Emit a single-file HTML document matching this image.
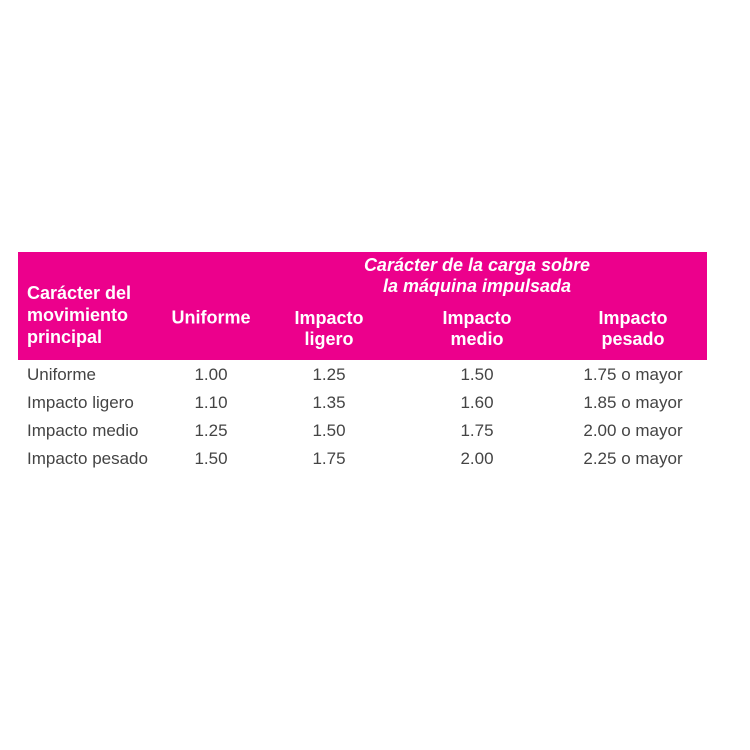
<!DOCTYPE html>
<html><head><meta charset="utf-8"><style>
body{margin:0;width:750px;height:750px;background:#fff;position:relative;font-family:"Liberation Sans",sans-serif;overflow:hidden}
.band{position:absolute;left:18px;top:252px;width:689px;height:108px;background:#EC008C}
.h{position:absolute;color:#fff;font-weight:bold;font-size:18px;line-height:21px;transform:translate(-50%,-50%);text-align:center;white-space:nowrap}
.hl{position:absolute;color:#fff;font-weight:bold;font-size:18px;line-height:22px;left:27px;top:282px}
.t{position:absolute;color:#444;font-size:17px;transform:translate(-50%,-50%);white-space:nowrap}
.l{position:absolute;color:#444;font-size:17px;left:27px;transform:translateY(-50%);white-space:nowrap}
</style></head><body>
<div class="band"></div>
<div class="hl">Carácter del<br>movimiento<br>principal</div>
<div class="h" style="left:477px;top:276px;font-style:italic">Carácter de la carga sobre<br>la máquina impulsada</div>
<div class="h" style="left:211px;top:318px">Uniforme</div>
<div class="h" style="left:329px;top:329px">Impacto<br>ligero</div>
<div class="h" style="left:477px;top:329px">Impacto<br>medio</div>
<div class="h" style="left:633px;top:329px">Impacto<br>pesado</div>
<div id="rows"></div>
<script>
const labels=["Uniforme","Impacto ligero","Impacto medio","Impacto pesado"];
const c1=["1.00","1.10","1.25","1.50"];
const c2=["1.25","1.35","1.50","1.75"];
const c3=["1.50","1.60","1.75","2.00"];
const c4=["1.75 o mayor","1.85 o mayor","2.00 o mayor","2.25 o mayor"];
const xs=[211,329,477,633];
const host=document.getElementById('rows');
labels.forEach((lab,i)=>{
  const y=375+i*28;
  const d=document.createElement('div');
  d.className='l';d.style.top=y+'px';d.textContent=lab;
  
  
  host.appendChild(d);
  [c1,c2,c3,c4].forEach((col,j)=>{
    const e=document.createElement('div');
    e.className='t';e.style.top=y+'px';e.style.left=xs[j]+'px';e.textContent=col[i];
    
    
    host.appendChild(e);
  });
});
</script>
</body></html>
